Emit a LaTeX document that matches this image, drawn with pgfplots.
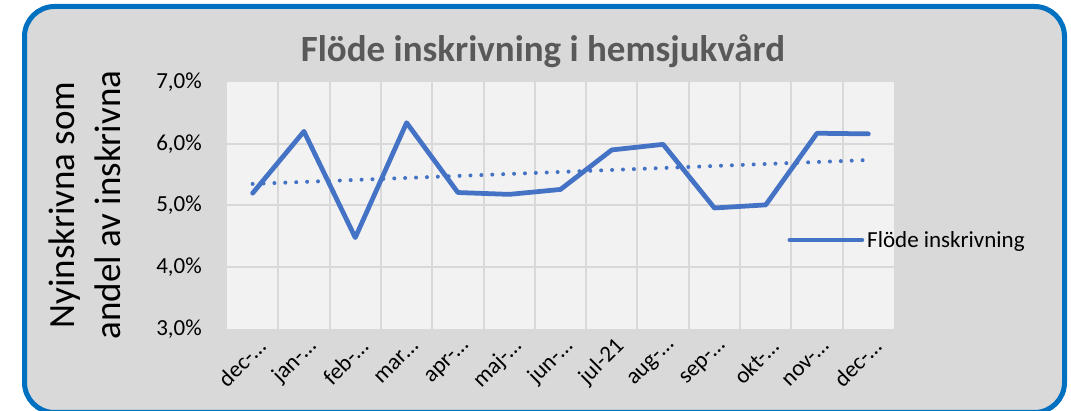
\documentclass[border=0pt]{standalone}
\usepackage{fontspec}
\setmainfont{Carlito}
\usepackage{pgfplots}
\usepackage{pgfplotstable}
\pgfplotsset{compat=1.18}
\definecolor{frameblue}{HTML}{0070C0}
\definecolor{bggray}{HTML}{D9D9D9}
\definecolor{plotgray}{HTML}{F2F2F2}
\definecolor{gridgray}{HTML}{D9D9D9}
\definecolor{lineblue}{HTML}{4472C4}
\definecolor{titlegray}{HTML}{595959}

\pgfplotstableread{
x y
0 5.20
1 6.20
2 4.48
3 6.34
4 5.21
5 5.18
6 5.26
7 5.90
8 5.99
9 4.96
10 5.01
11 6.17
12 6.16
}\flode

\begin{document}
\begin{tikzpicture}[x=1pt,y=1pt]
\useasboundingbox (0,0) rectangle (1071,411);
\fill[white] (0,0) rectangle (1071,411);
\draw[line width=5pt, frameblue, fill=bggray, rounded corners=30pt] (24.5,-1.5) rectangle (1064.5,404.5);
\node[font=\fontsize{37}{44}\selectfont\bfseries, text=titlegray, inner sep=0pt, anchor=base] at (543,349) {Flöde inskrivning i hemsjukvård};
\node[rotate=90, align=center, font=\fontsize{37}{46}\selectfont, inner sep=0pt] at (85,206) {Nyinskrivna som\\andel av inskrivna};
\begin{axis}[
  at={(227pt,82pt)}, anchor=south west,
  scale only axis, width=667pt, height=247pt,
  xmin=-0.5, xmax=12.5, ymin=3, ymax=7,
  axis background/.style={fill=plotgray},
  axis line style={draw=none},
  major tick length=0pt, minor tick length=0pt,
  xtick={0,...,12},
  xticklabels={dec-…, jan-…, feb-…, mar…, apr-…, maj-…, jun-…, jul-21, aug-…, sep-…, okt-…, nov-…, dec-…},
  minor xtick={0.5,1.5,...,11.5},
  xminorgrids=true,
  minor grid style={gridgray, line width=2pt},
  ytick={3,4,5,6,7},
  yticklabels={{3,0\%},{4,0\%},{5,0\%},{6,0\%},{7,0\%}},
  extra y ticks={4,5,6},
  extra y tick labels={},
  extra y tick style={grid=major, major grid style={gridgray, line width=2pt}},
  ticklabel style={font=\fontsize{23}{27}\selectfont},
  yticklabel style={inner sep=0pt, xshift=-25pt},
  xticklabel style={inner sep=0pt, xshift=9pt, yshift=-14pt, rotate=45, anchor=east},
  legend style={draw=none, fill=none, at={(0.840,0.3603)}, anchor=west, inner sep=0pt,
    font=\fontsize{23}{27}\selectfont, nodes={inner sep=3pt}},
  legend image code/.code={\draw[#1, line cap=round] (0pt,0pt) -- (72pt,0pt);},
]
\addplot[color=lineblue, line width=4.75pt, line join=round, line cap=round] table[x=x, y=y] {\flode};
\addlegendentry{Flöde inskrivning}
\addplot[forget plot, color=lineblue, line width=4pt, line cap=round, dash pattern=on 0pt off 10.9pt]
  table[x=x, y={create col/linear regression={y=y}}] {\flode};
\end{axis}
\end{tikzpicture}
\end{document}
